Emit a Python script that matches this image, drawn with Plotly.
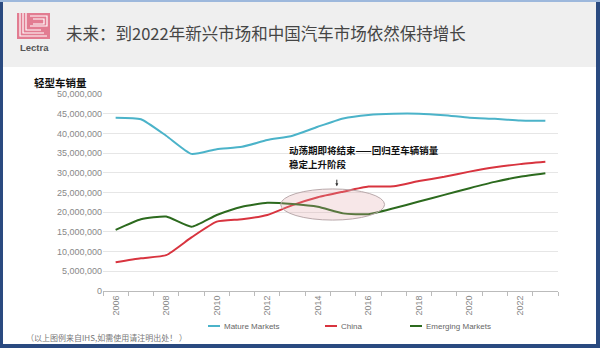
import plotly.graph_objects as go

years = list(range(2006, 2024))
mature = [44.0, 43.6, 39.4, 34.8, 36.0, 36.6, 38.3, 39.4, 41.7, 43.8, 44.7, 45.0, 45.0, 44.6, 44.0, 43.7, 43.3, 43.2]
china = [7.3, 8.3, 9.1, 13.6, 17.6, 18.2, 19.3, 21.8, 23.8, 25.2, 26.5, 26.6, 27.9, 29.0, 30.3, 31.4, 32.2, 32.8]
emerging = [15.5, 18.2, 18.9, 16.3, 19.3, 21.4, 22.4, 22.1, 21.4, 19.7, 19.5, 21.0, 22.7, 24.4, 26.1, 27.7, 29.0, 29.9]
series_names = ["Mature Markets", "China", "Emerging Markets"]
colors = ["#4bb3c9", "#d8343f", "#2c6a1e"]
tick_years = list(range(2006, 2023, 2))
tick_labels = [str(y) for y in tick_years]
ytick_vals = list(range(0, 50_000_001, 5_000_000))

W, H = 600, 348
L, R, T, B = 103, 42, 94, 57
PW, PH = W - L - R, H - T - B


def xp(px):
    return (px - L) / PW


def yp(py):
    return (H - B - py) / PH


fig = go.Figure()
for name, vals, c in zip(series_names, [mature, china, emerging], colors):
    fig.add_trace(go.Scatter(x=years, y=[v * 1e6 for v in vals], mode="lines", name=name,
                             line=dict(color=c, width=2, shape="spline", smoothing=0.5),
                             showlegend=False))

shapes = []
annotations = []

# header band
shapes.append(dict(type="rect", xref="paper", yref="paper", x0=xp(0), x1=xp(W), y0=yp(67), y1=yp(0),
                   fillcolor="#efefef", line=dict(width=0), layer="below"))
# logo
shapes.append(dict(type="rect", xref="paper", yref="paper", x0=xp(17), x1=xp(50), y0=yp(39), y1=yp(13),
                   fillcolor="#e27c91", line=dict(width=0)))
for i, (a, b) in enumerate([(20, 47), (23, 44), (26, 41)]):
    shapes.append(dict(type="path", xref="paper", yref="paper",
                       path=f"M {xp(a)} {yp(13)} L {xp(a)} {yp(36 - i * 3)} L {xp(b)} {yp(36 - i * 3)}",
                       line=dict(color="white", width=1.2)))
for i, (a, b) in enumerate([(30, 47), (33, 44)]):
    shapes.append(dict(type="path", xref="paper", yref="paper",
                       path=f"M {xp(a)} {yp(16 + i * 3)} L {xp(b)} {yp(16 + i * 3)} L {xp(b)} {yp(26 - i * 2)} L {xp(a)} {yp(26 - i * 2)}",
                       line=dict(color="white", width=1.2)))
annotations.append(dict(text="<b>Lectra</b>", x=xp(34), y=yp(48), xref="paper", yref="paper",
                        showarrow=False, xanchor="center", yanchor="middle",
                        font=dict(size=9.5, color="#555555", family="Liberation Sans")))
annotations.append(dict(text="未来：到2022年新兴市场和中国汽车市场依然保持增长", x=xp(64), y=yp(33),
                        xref="paper", yref="paper", showarrow=False, xanchor="left", yanchor="middle",
                        font=dict(size=16.5, color="#454545", family="Noto Sans CJK SC")))
# borders
shapes.append(dict(type="rect", xref="paper", yref="paper", x0=xp(0), x1=xp(3), y0=yp(H), y1=yp(0),
                   fillcolor="#2a4a80", line=dict(width=0)))
shapes.append(dict(type="rect", xref="paper", yref="paper", x0=xp(596), x1=xp(W), y0=yp(H), y1=yp(0),
                   fillcolor="#2a4a80", line=dict(width=0)))
shapes.append(dict(type="rect", xref="paper", yref="paper", x0=xp(0), x1=xp(W), y0=yp(H), y1=yp(344),
                   fillcolor="#2a4a80", line=dict(width=0)))
shapes.append(dict(type="rect", xref="paper", yref="paper", x0=xp(0), x1=xp(W), y0=yp(2), y1=yp(0),
                   fillcolor="#9db8dc", line=dict(width=0)))

# ellipse highlight
shapes.append(dict(type="circle", xref="x", yref="y", x0=2012.53, x1=2016.64, y0=18.0e6, y1=25.9e6,
                   fillcolor="rgba(225,160,165,0.25)", line=dict(color="#b9a9ab", width=1)))
annotations.append(dict(text="<b>动荡期即将结束——回归至车辆销量</b>", x=xp(287), y=yp(150),
                        xref="paper", yref="paper", showarrow=False, xanchor="left", yanchor="middle",
                        font=dict(size=9.5, color="#111111", family="Noto Sans CJK SC")))
annotations.append(dict(text="<b>稳定上升阶段</b>", x=xp(287), y=yp(164),
                        xref="paper", yref="paper", showarrow=False, xanchor="left", yanchor="middle",
                        font=dict(size=9.5, color="#111111", family="Noto Sans CJK SC")))
annotations.append(dict(text="", x=2014.75, y=26.6e6, xref="x", yref="y", showarrow=True, ax=0, ay=-8,
                        arrowhead=2, arrowsize=0.6, arrowwidth=1, arrowcolor="#333333"))

# y axis title
annotations.append(dict(text="<b>轻型车销量</b>", x=xp(60), y=yp(82), xref="paper", yref="paper",
                        showarrow=False, xanchor="center", yanchor="middle",
                        font=dict(size=10.5, color="#111111", family="Noto Sans CJK SC")))

# legend (manual)
for name, c, x0 in zip(series_names, colors, [208, 325, 410]):
    shapes.append(dict(type="line", xref="paper", yref="paper", x0=xp(x0), x1=xp(x0 + 12),
                       y0=yp(326), y1=yp(326), line=dict(color=c, width=2)))
    annotations.append(dict(text=name, x=xp(x0 + 14), y=yp(326), xref="paper", yref="paper",
                            showarrow=False, xanchor="left", yanchor="middle",
                            font=dict(size=8, color="#666666", family="Liberation Sans")))

# footnote
annotations.append(dict(text="（以上图例来自IHS,如需使用请注明出处！ ）", x=xp(24), y=yp(337),
                        xref="paper", yref="paper", showarrow=False, xanchor="left", yanchor="middle",
                        font=dict(size=8, color="#777777", family="Noto Sans CJK SC")))

fig.update_layout(
    width=W, height=H, margin=dict(l=L, r=R, t=T, b=B),
    paper_bgcolor="white", plot_bgcolor="white",
    shapes=shapes, annotations=annotations, showlegend=False,
    xaxis=dict(range=[2005.5, 2023.5], tickvals=tick_years, ticktext=tick_labels, tickangle=-90,
               ticks="", showgrid=False, zeroline=False, showline=True, linecolor="#bbbbbb",
               linewidth=1, tickfont=dict(size=9, color="#888888", family="Liberation Sans"),
               minor=dict(tickvals=[y + 0.5 for y in range(2005, 2024)], ticks="outside",
                          ticklen=4, tickcolor="#bbbbbb", showgrid=False)),
    yaxis=dict(range=[0, 50_000_000], tickvals=ytick_vals, tickformat=",d", showgrid=True,
               gridcolor="#e6e6e6", zeroline=False, showline=False, ticks="",
               tickfont=dict(size=9, color="#888888", family="Liberation Sans")),
)

fig.write_html("out.html")
